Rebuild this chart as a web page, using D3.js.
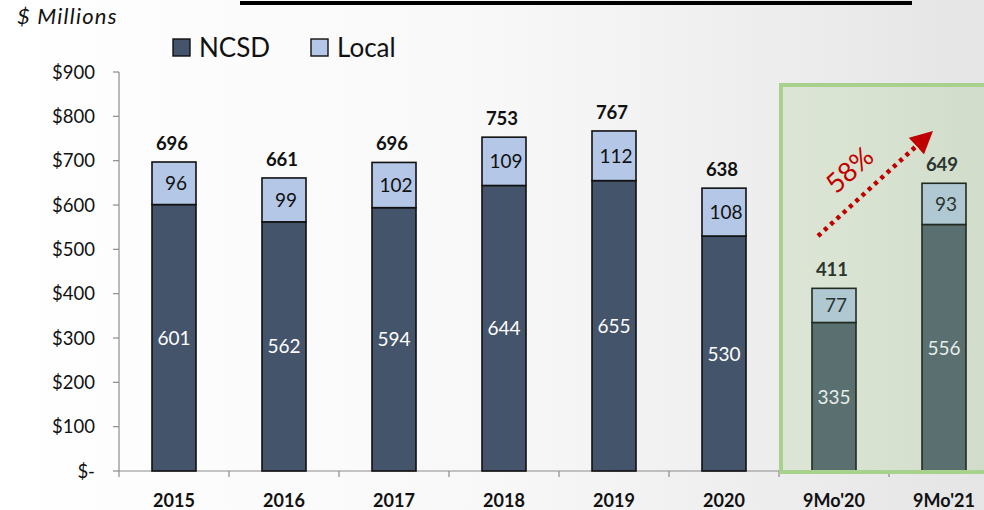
<!DOCTYPE html>
<html>
<head>
<meta charset="utf-8">
<script src="https://cdn.jsdelivr.net/npm/d3@7/dist/d3.min.js"></script>
<style>
  html, body { margin: 0; padding: 0; background: #fff; }
  svg { display: block; font-family: Lato, "Open Sans", sans-serif; }
</style>
</head>
<body>
<div id="chart"></div>
<script>
const categories = ['2015', '2016', '2017', '2018', '2019', '2020', "9Mo'20", "9Mo'21"];
const ncsdValues = [601, 562, 594, 644, 655, 530, 335, 556];
const localValues = [96, 99, 102, 109, 112, 108, 77, 93];
const totalValues = [696, 661, 696, 753, 767, 638, 411, 649];
const yTicks = [0, 100, 200, 300, 400, 500, 600, 700, 800, 900];
const highlighted = ["9Mo'20", "9Mo'21"];
const growthLabel = '58%';

const width = 984, height = 510;
const axisX = 119;

const svg = d3.select('#chart').append('svg')
    .attr('width', width)
    .attr('height', height);

const defs = svg.append('defs');
const bg = defs.append('linearGradient').attr('id', 'bg').attr('x1', 0).attr('x2', 1).attr('y1', 0).attr('y2', 0);
bg.append('stop').attr('offset', '0%').attr('stop-color', '#ffffff');
bg.append('stop').attr('offset', '50%').attr('stop-color', '#f8f8f8');
bg.append('stop').attr('offset', '100%').attr('stop-color', '#e5e5e5');
const gbox = defs.append('linearGradient').attr('id', 'gbox').attr('x1', 0).attr('x2', 1).attr('y1', 0).attr('y2', 0);
gbox.append('stop').attr('offset', '0%').attr('stop-color', '#dde6d6');
gbox.append('stop').attr('offset', '100%').attr('stop-color', '#d0dcc9');

svg.append('rect').attr('width', width).attr('height', height).attr('fill', 'url(#bg)');

// top rule
svg.append('line')
    .attr('x1', 240).attr('x2', 912).attr('y1', 3).attr('y2', 3)
    .attr('stroke', '#000').attr('stroke-width', 4);

const x = d3.scaleBand()
    .domain(categories)
    .range([axisX, axisX + 110 * categories.length])
    .paddingInner(0.6)
    .paddingOuter(0.3);

const y = d3.scaleLinear().domain([0, 900]).range([471, 72]);

// green highlight box (behind the last two bars)
const boxX = x(highlighted[0]) - (x.step() - x.bandwidth()) / 2 + 2;
svg.append('rect')
    .attr('x', boxX).attr('y', 85).attr('width', width - boxX + 20).attr('height', y(0) - 85 + 1)
    .attr('fill', 'url(#gbox)')
    .attr('stroke', '#a9d18e').attr('stroke-width', 4);

// y axis
const yAxis = svg.append('g');
yAxis.append('line')
    .attr('x1', axisX).attr('x2', axisX).attr('y1', y(900)).attr('y2', y(0))
    .attr('stroke', '#8c8c8c').attr('stroke-width', 1.2);
yAxis.selectAll('.ytick').data(yTicks).enter().append('line')
    .attr('x1', axisX - 6).attr('x2', axisX)
    .attr('y1', d => y(d)).attr('y2', d => y(d))
    .attr('stroke', '#8c8c8c').attr('stroke-width', 1.2);
yAxis.selectAll('.ylab').data(yTicks).enter().append('text')
    .attr('x', 95).attr('y', d => y(d) + 6.5)
    .attr('text-anchor', 'end')
    .attr('font-size', 18.5)
    .attr('fill', '#111')
    .text(d => d === 0 ? '$-' : '$' + d);

// x axis
const step = x.step();
const boundaries = d3.range(categories.length + 1).map(i => axisX + i * step);
svg.append('line')
    .attr('x1', axisX).attr('x2', boxX).attr('y1', y(0)).attr('y2', y(0))
    .attr('stroke', '#8c8c8c').attr('stroke-width', 1.2);
svg.selectAll('.xtick').data(boundaries).enter().append('line')
    .attr('x1', d => d).attr('x2', d => d)
    .attr('y1', y(0)).attr('y2', y(0) + 6)
    .attr('stroke', '#8c8c8c').attr('stroke-width', 1.2);
svg.selectAll('.xlab').data(categories).enter().append('text')
    .attr('x', d => x(d) + x.bandwidth() / 2)
    .attr('y', 507)
    .attr('text-anchor', 'middle')
    .attr('font-size', 18)
    .attr('font-weight', 'bold')
    .attr('fill', '#111')
    .text(d => d);

// bars
const rows = categories.map((c, i) => ({
    c, ncsd: ncsdValues[i], local: localValues[i], total: totalValues[i], hl: highlighted.includes(c)
}));

const bars = svg.append('g');
bars.selectAll('.ncsd').data(rows).enter().append('rect')
    .attr('x', d => x(d.c)).attr('width', x.bandwidth())
    .attr('y', d => y(d.ncsd)).attr('height', d => y(0) - y(d.ncsd))
    .attr('fill', d => d.hl ? '#5a7070' : '#44546a')
    .attr('stroke', d => d.hl ? '#222b22' : '#111').attr('stroke-width', 1.6);
bars.selectAll('.local').data(rows).enter().append('rect')
    .attr('x', d => x(d.c)).attr('width', x.bandwidth())
    .attr('y', d => y(d.ncsd + d.local)).attr('height', d => y(d.ncsd) - y(d.ncsd + d.local))
    .attr('fill', d => d.hl ? '#b0c8d1' : '#b4c7e7')
    .attr('stroke', d => d.hl ? '#222b22' : '#111').attr('stroke-width', 1.6);

// redraw box bottom edge over bars
svg.append('line')
    .attr('x1', boxX - 2).attr('x2', width).attr('y1', y(0) + 1).attr('y2', y(0) + 1)
    .attr('stroke', '#a9d18e').attr('stroke-width', 4);

// labels
const labels = svg.append('g');
labels.selectAll('.nl').data(rows).enter().append('text')
    .attr('x', d => x(d.c) + x.bandwidth() / 2)
    .attr('y', d => (y(0) + y(d.ncsd)) / 2 + 7)
    .attr('text-anchor', 'middle')
    .attr('font-size', 19)
    .attr('fill', d => d.hl ? '#e6ede8' : '#fff')
    .text(d => d.ncsd);
labels.selectAll('.ll').data(rows).enter().append('text')
    .attr('x', d => x(d.c) + x.bandwidth() / 2 + 2)
    .attr('y', d => (y(d.ncsd) + y(d.ncsd + d.local)) / 2 + 7)
    .attr('text-anchor', 'middle')
    .attr('font-size', 19)
    .attr('fill', d => d.hl ? '#2b3530' : '#111')
    .text(d => d.local);
labels.selectAll('.tl').data(rows).enter().append('text')
    .attr('x', d => x(d.c) + x.bandwidth() / 2 - 2)
    .attr('y', d => y(d.ncsd + d.local) - 12)
    .attr('text-anchor', 'middle')
    .attr('font-size', 18.5)
    .attr('font-weight', 'bold')
    .attr('fill', d => d.hl ? '#2b3530' : '#111')
    .text(d => d.total);

// growth arrow
defs.append('marker').attr('id', 'arrowhead')
    .attr('viewBox', '0 0 10 10').attr('refX', 4).attr('refY', 5)
    .attr('markerWidth', 5).attr('markerHeight', 5).attr('orient', 'auto')
    .append('path').attr('d', 'M0,0 L10,5 L0,10 Z').attr('fill', '#c00000');
svg.append('line')
    .attr('x1', 818).attr('y1', 236).attr('x2', 923).attr('y2', 140)
    .attr('stroke', '#c00000').attr('stroke-width', 4.5)
    .attr('stroke-dasharray', '4,4.5')
    .attr('marker-end', 'url(#arrowhead)');
svg.append('text')
    .attr('transform', 'translate(856,177) rotate(-42)')
    .attr('text-anchor', 'middle')
    .attr('font-size', 27)
    .attr('fill', '#c00000')
    .text(growthLabel);

// unit label
svg.append('text')
    .attr('x', 17).attr('y', 24)
    .attr('font-size', 22)
    .attr('font-style', 'italic')
    .attr('letter-spacing', 1.2)
    .attr('fill', '#111')
    .text('$ Millions');

// legend
const legend = svg.append('g');
const legendItems = [{ name: 'NCSD', color: '#44546a', x: 173 }, { name: 'Local', color: '#b4c7e7', x: 311 }];
legend.selectAll('rect').data(legendItems).enter().append('rect')
    .attr('x', d => d.x).attr('y', 39).attr('width', 17).attr('height', 17)
    .attr('fill', d => d.color).attr('stroke', '#111').attr('stroke-width', 1.4);
legend.selectAll('text').data(legendItems).enter().append('text')
    .attr('x', d => d.x + 26).attr('y', 57)
    .attr('font-size', 26)
    .attr('fill', '#111')
    .text(d => d.name);
</script>
</body>
</html>
